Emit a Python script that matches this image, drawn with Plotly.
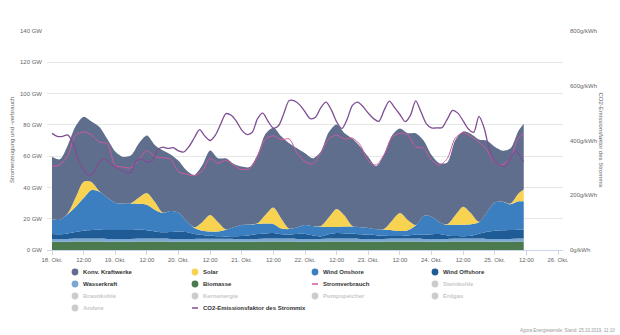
import pandas as pd
import plotly.graph_objects as go

# ---------------- data (GW, 3-hourly from 18.10.2019 00:00, last point 25.10. 11:00)
times = list(pd.date_range("2019-10-18 00:00", periods=60, freq="3h")) + [pd.Timestamp("2019-10-25 11:00")]

biomasse = [5.3, 5.3, 5.3, 5.4, 5.4, 5.4, 5.4, 5.3, 5.3, 5.3, 5.3, 5.4, 5.4, 5.4, 5.4, 5.3,
            5.3, 5.3, 5.3, 5.3, 5.3, 5.3, 5.3, 5.3, 5.3, 5.3, 5.3, 5.4, 5.4, 5.4, 5.4, 5.3,
            5.3, 5.3, 5.3, 5.4, 5.4, 5.4, 5.4, 5.3, 5.3, 5.3, 5.3, 5.4, 5.4, 5.4, 5.4, 5.3,
            5.3, 5.3, 5.3, 5.4, 5.4, 5.4, 5.4, 5.3, 5.3, 5.3, 5.3, 5.4, 5.4]
wasserkraft = [1.8, 1.8, 1.8, 1.9, 1.9, 1.9, 1.9, 1.8, 1.8, 1.8, 1.8, 1.9, 1.9, 1.9, 1.9, 1.8,
               1.8, 1.8, 1.8, 1.9, 1.9, 1.9, 1.9, 1.8, 1.8, 1.8, 1.8, 1.9, 1.9, 1.9, 1.9, 1.8,
               1.8, 1.8, 1.8, 1.9, 1.9, 1.9, 1.9, 1.8, 1.8, 1.8, 1.8, 1.9, 1.9, 1.9, 1.9, 1.8,
               1.8, 1.8, 1.8, 1.9, 1.9, 1.9, 1.9, 1.8, 1.8, 1.8, 1.8, 1.9, 1.9]
wind_offshore = [3.1, 3.0, 3.5, 4.2, 5.0, 5.5, 5.7, 5.7, 5.7, 5.7, 5.7, 5.6, 5.3, 4.6, 4.0, 4.4,
                 4.8, 4.4, 3.2, 2.4, 1.9, 1.6, 1.5, 1.7, 1.9, 2.4, 3.1, 3.3, 3.5, 2.7, 2.6, 3.2,
                 3.1, 2.2, 1.6, 2.8, 3.5, 3.3, 3.1, 2.9, 2.7, 2.4, 2.0, 1.6, 1.7, 2.0, 2.4, 2.6,
                 3.0, 3.1, 2.2, 1.6, 1.5, 1.8, 3.1, 4.5, 5.2, 5.5, 5.7, 5.7, 5.7]
wind_onshore = [9.4, 9.2, 12.4, 16.2, 20.9, 25.6, 24.2, 20.7, 17.2, 17.0, 17.0, 16.7, 16.4, 13.9, 12.4, 13.5,
                12.1, 7.0, 3.7, 2.7, 2.7, 3.0, 4.2, 5.7, 7.0, 6.8, 6.4, 6.4, 5.9, 3.7, 3.5, 4.2,
                5.8, 6.0, 6.1, 4.6, 3.9, 4.4, 4.6, 4.5, 4.2, 3.7, 3.9, 3.8, 3.1, 3.4, 6.0, 12.1,
                11.2, 7.6, 6.7, 7.3, 7.4, 7.4, 7.3, 12.4, 18.0, 18.3, 16.4, 18.1, 18.1]
solar = [0, 0, 0.5, 6, 10.5, 5, 0.3, 0, 0, 0, 0.3, 4, 7.5, 5, 0.2, 0,
         0, 0, 0.5, 5.5, 10.5, 6, 0.3, 0, 0, 0, 0.5, 5.5, 10.5, 6.5, 0.3, 0,
         0, 0, 0.5, 6, 11.5, 7, 0.3, 0, 0, 0, 0.5, 6, 11.5, 6.5, 0.3, 0,
         0, 0, 0.5, 6, 11.5, 7, 0.3, 0, 0, 0, 0.5, 5, 7.5]
konv_kraftwerke = [40.0, 38.7, 43.5, 45.5, 41.5, 38.8, 41.2, 37.5, 33.0, 29.7, 30.4, 34.6, 36.7, 36.4, 39.8, 36.0,
                   33.0, 32.5, 33.5, 36.3, 41.3, 40.8, 45.4, 40.5, 37.3, 36.7, 43.9, 51.7, 51.0, 52.5, 54.5, 50.5,
                   45.8, 43.3, 47.7, 54.5, 54.0, 52.7, 55.9, 51.5, 45.6, 40.3, 47.5, 54.5, 54.1, 55.5, 58.7, 48.2,
                   39.4, 37.7, 39.5, 48.0, 48.1, 50.7, 52.7, 46.0, 35.7, 32.6, 35.3, 40.1, 42.1]
stromverbrauch = [53.3, 54.5, 60.5, 73.5, 75.5, 73.5, 69.0, 68.0, 54.0, 53.0, 52.5, 58.0, 63.5, 59.8, 59.0, 58.0,
                  50.0, 48.5, 47.5, 50.5, 58.6, 55.4, 57.5, 54.0, 51.5, 52.0, 60.0, 71.0, 73.0, 70.5, 71.0, 62.0,
                  56.5, 55.0, 62.0, 71.0, 73.5, 71.0, 71.5, 67.0, 57.0, 54.3, 61.0, 72.0, 74.6, 73.5, 66.0, 65.0,
                  57.5, 54.3, 58.5, 71.5, 75.0, 72.5, 69.0, 64.0, 56.0, 54.5, 59.0, 71.5, 74.6]

# CO2 emission factor (g/kWh), 2-hourly, last point 25.10. 11:00
co2_times = list(pd.date_range("2019-10-18 00:00", periods=90, freq="2h")) + [pd.Timestamp("2019-10-25 11:00")]
co2 = [426, 415, 415, 420, 390, 327, 292, 272, 285, 322, 332, 318,
       304, 294, 283, 285, 325, 332, 322, 325, 365, 376, 371, 374,
       362, 358, 378, 410, 440, 416, 400, 420, 460, 498, 492, 470,
       438, 422, 430, 480, 500, 470, 445, 455, 500, 546, 545, 530,
       505, 480, 485, 520, 540, 512, 468, 444, 478, 528, 540, 524,
       500, 480, 470, 510, 544, 520, 495, 469, 492, 545, 505, 462,
       446, 446, 447, 478, 510, 500, 472, 442, 430, 488, 445, 365,
       323, 310, 305, 338, 362, 335, 323]

tick_vals = list(pd.date_range("2019-10-18 00:00", "2019-10-26 00:00", freq="12h"))
tick_text = ["18. Okt.", "12:00", "19. Okt.", "12:00", "20. Okt.", "12:00", "21. Okt.", "12:00",
             "22. Okt.", "12:00", "23. Okt.", "12:00", "24. Okt.", "12:00", "25. Okt.", "12:00", "26. Okt."]

legend_names = ["Konv. Kraftwerke", "Solar", "Wind Onshore", "Wind Offshore",
                "Wasserkraft", "Biomasse", "Stromverbrauch", "Steinkohle",
                "Braunkohle", "Kernenergie", "Pumpspeicher", "Erdgas",
                "Andere", "CO2-Emissionsfaktor des Strommix"]
legend_kind = ["dot", "dot", "dot", "dot", "dot", "dot", "line", "dot",
               "dot", "dot", "dot", "dot", "dot", "line"]
legend_colors = ["#5f6e8d", "#f8d352", "#3b7fc0", "#1f5b95",
                 "#7ba7d4", "#4a7a4e", "#d2589f", "#cccccc",
                 "#cccccc", "#cccccc", "#cccccc", "#cccccc",
                 "#cccccc", "#7e4e93"]
legend_active = [True, True, True, True, True, True, True, False,
                 False, False, False, False, False, True]

FONT = "Liberation Sans, Arial, sans-serif"

fig = go.Figure()
areas = [("Biomasse", biomasse, "#4a7a4e"),
         ("Wasserkraft", wasserkraft, "#7ba7d4"),
         ("Wind Offshore", wind_offshore, "#1f5b95"),
         ("Wind Onshore", wind_onshore, "#3b7fc0"),
         ("Solar", solar, "#f8d352"),
         ("Konv. Kraftwerke", konv_kraftwerke, "#5f6e8d")]
for name, vals, col in areas:
    fig.add_trace(go.Scatter(x=times, y=vals, name=name, stackgroup="gen",
                             mode="lines", line=dict(width=0, shape="spline", smoothing=0.8),
                             fillcolor=col, showlegend=False, hoverinfo="skip"))

fig.add_trace(go.Scatter(x=times, y=stromverbrauch, name="Stromverbrauch", mode="lines",
                         line=dict(color="#d2589f", width=1, shape="spline", smoothing=0.8),
                         showlegend=False, hoverinfo="skip"))
fig.add_trace(go.Scatter(x=co2_times, y=co2, name="CO2-Emissionsfaktor des Strommix", mode="lines",
                         yaxis="y2", line=dict(color="#7e4e93", width=1.3, shape="spline", smoothing=0.8),
                         showlegend=False, hoverinfo="skip"))

# plot area in pixels
L, R, T, B = 47, 563, 31, 250
W, H = 620, 335
day_px = 63.25
pad = pd.Timedelta(hours=24 * 5 / day_px)

def px(xp):
    return (xp - L) / (R - L)

def py(yp):
    return (B - yp) / (B - T)

shapes = []
annotations = []
for i, name in enumerate(legend_names):
    col = i % 4
    row = i // 4
    cx = 75 + 120 * col
    cy = 272 + 12 * row
    if legend_kind[i] == "dot":
        shapes.append(dict(type="circle", xref="paper", yref="paper", xsizemode="pixel", ysizemode="pixel",
                           xanchor=px(cx), yanchor=py(cy), x0=-3.4, x1=3.4, y0=-3.4, y1=3.4,
                           fillcolor=legend_colors[i], line=dict(width=0)))
    else:
        shapes.append(dict(type="line", xref="paper", yref="paper", xsizemode="pixel", ysizemode="pixel",
                           xanchor=px(cx), yanchor=py(cy), x0=-3, x1=3, y0=0, y1=0,
                           line=dict(color=legend_colors[i], width=1.5)))
    annotations.append(dict(x=px(cx + 6), y=py(cy), xref="paper", yref="paper", xanchor="left",
                            yanchor="middle", showarrow=False, text="<b>" + name + "</b>",
                            font=dict(family=FONT, size=6, color="#333333" if legend_active[i] else "#c8c8c8")))

annotations.append(dict(x=px(12), y=py(140), xref="paper", yref="paper", textangle=-90, showarrow=False,
                        text="Stromerzeugung und -verbrauch", xanchor="center", yanchor="middle",
                        font=dict(family=FONT, size=6, color="#666666")))
annotations.append(dict(x=px(600.5), y=py(140), xref="paper", yref="paper", textangle=90, showarrow=False,
                        text="CO2-Emissionsfaktor des Strommix", xanchor="center", yanchor="middle",
                        font=dict(family=FONT, size=6, color="#666666")))
annotations.append(dict(x=px(617), y=py(330), xref="paper", yref="paper", xanchor="right", yanchor="middle",
                        showarrow=False, text="Agora Energiewende; Stand: 25.10.2019, 11:10",
                        font=dict(family=FONT, size=4.5, color="#999999")))

fig.update_layout(
    width=W, height=H,
    margin=dict(l=L, r=W - R, t=T, b=H - B, pad=0),
    paper_bgcolor="white", plot_bgcolor="white",
    font=dict(family=FONT, size=6, color="#666666"),
    showlegend=False,
    xaxis=dict(type="date", range=[pd.Timestamp("2019-10-18 00:00") - pad, pd.Timestamp("2019-10-26 00:00") + pad],
               tickmode="array", tickvals=tick_vals, ticktext=tick_text, showgrid=False,
               showline=True, linecolor="#ccd6eb", linewidth=1, ticks="outside", ticklen=4,
               tickcolor="#ccd6eb", tickfont=dict(size=6, color="#666666"), zeroline=False),
    yaxis=dict(range=[0, 140], dtick=20, ticksuffix=" GW", showgrid=True, gridcolor="#e6e6e6",
               gridwidth=1, zeroline=False, showline=False, tickfont=dict(size=6, color="#666666"),
               ticklabelstandoff=4),
    yaxis2=dict(range=[0, 800], dtick=200, ticksuffix="g/kWh", overlaying="y", side="right",
                showgrid=False, zeroline=False, showline=False, tickfont=dict(size=6, color="#666666"),
                ticklabelstandoff=6),
    shapes=shapes, annotations=annotations,
)

fig.write_html("out.html")
